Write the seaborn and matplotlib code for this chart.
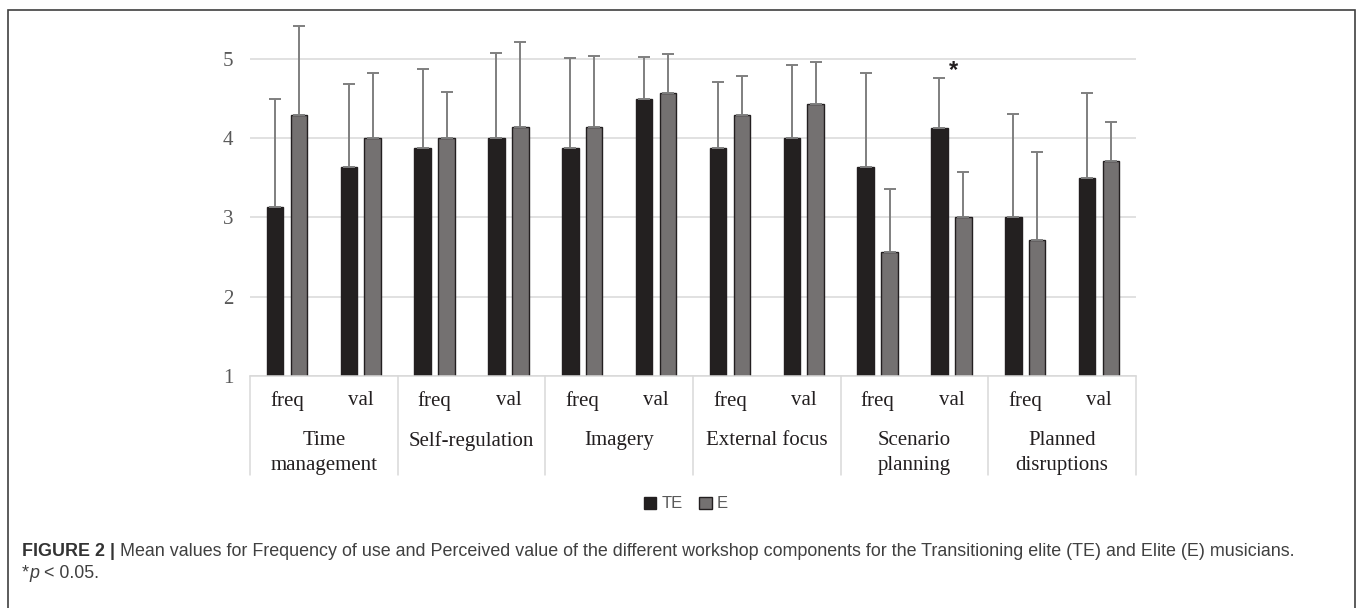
import pandas as pd
import seaborn as sns
import matplotlib.pyplot as plt
from matplotlib.patches import Rectangle
from matplotlib.transforms import blended_transform_factory

# datos
components = ['Time\nmanagement', 'Self-regulation', 'Imagery', 'External focus',
              'Scenario\nplanning', 'Planned\ndisruptions']
measures = ['freq', 'val']
groups = ['TE', 'E']

te_mean = [3.13, 3.64, 3.88, 4.00, 3.88, 4.50, 3.88, 4.00, 3.64, 4.13, 3.00, 3.50]
e_mean = [4.29, 4.00, 4.00, 4.14, 4.14, 4.57, 4.29, 4.43, 2.57, 3.00, 2.71, 3.71]
te_sd = [1.36, 1.05, 0.99, 1.07, 1.13, 0.53, 0.83, 0.93, 1.18, 0.63, 1.31, 1.07]
e_sd = [1.12, 0.82, 0.58, 1.07, 0.90, 0.49, 0.49, 0.53, 0.79, 0.58, 1.11, 0.49]
sig_items = [9]  # Scenario planning val, p < 0.05

items = [c + '|' + m for c in components for m in measures]
df = pd.DataFrame({
    'item': items * 2,
    'group': ['TE'] * len(items) + ['E'] * len(items),
    'mean': te_mean + e_mean,
})

sns.set_theme(style='white')
plt.rcParams['font.family'] = ['Liberation Serif', 'DejaVu Serif']

fig = plt.figure(figsize=(13.58, 6.08), dpi=100)
ax = fig.add_axes([250 / 1358, 1 - 376 / 608, 886 / 1358, (376 - 23.3) / 608])

sns.barplot(data=df, x='item', y='mean', hue='group', order=items, hue_order=groups,
            palette=['#231f20', '#757070'], width=0.648, gap=0.31,
            edgecolor='#231f20', linewidth=1, errorbar=None, legend=True, ax=ax)

# barras de error solo hacia arriba
for cont, sd in zip(ax.containers, [te_sd, e_sd]):
    xs = [b.get_x() + b.get_width() / 2 for b in cont]
    ys = [b.get_height() for b in cont]
    ax.errorbar(xs, ys, yerr=[[0] * len(sd), sd], fmt='none', ecolor='#7f7f7f',
                elinewidth=1.4, capsize=4.5, capthick=1.4, zorder=1)

for i in sig_items:
    ax.text(i + 0.03, te_mean[i] + te_sd[i] + 0.1, '*', ha='center', va='center',
            fontsize=17, color='#231f20', weight='bold',
            family=['Liberation Sans', 'DejaVu Sans'])

ax.set_ylim(1, 5.45)
ax.set_xlim(-0.5, len(items) - 0.5)
ax.set_yticks([1, 2, 3, 4, 5])
ax.yaxis.grid(True, color='#d9d9d9', linewidth=1.1)
ax.set_axisbelow(True)
for s in ['top', 'right', 'left']:
    ax.spines[s].set_visible(False)
ax.spines['bottom'].set_color('#d9d9d9')
ax.spines['bottom'].set_linewidth(1.1)
ax.set_xlabel('')
ax.set_ylabel('')
ax.set_xticks(range(len(items)))
ax.set_xticklabels([it.split('|')[1] for it in items])
ax.tick_params(axis='x', length=0, pad=11, labelsize=15, labelcolor='#231f20')
ax.tick_params(axis='y', length=0, pad=12, labelsize=15, labelcolor='#595959')

# etiquetas de grupo y separadores
tr = blended_transform_factory(ax.transData, ax.transAxes)
h_px = 376 - 23.3
for k in range(len(components) + 1):
    ax.plot([2 * k - 0.5, 2 * k - 0.5], [0, -99 / h_px], transform=tr,
            color='#d9d9d9', linewidth=1.1, clip_on=False)
for k, c in enumerate(components):
    ax.text(2 * k + 0.5, -(431 - 376) / h_px, c, transform=tr, ha='center', va='top',
            fontsize=15, color='#231f20', linespacing=1.42)

handles, labels = ax.get_legend_handles_labels()
ax.legend(handles, labels, loc='center', bbox_to_anchor=(686 / 1358, 1 - 504 / 608),
          bbox_transform=fig.transFigure, ncol=2, frameon=False, handlelength=0.75,
          handleheight=0.75, handletextpad=0.3, columnspacing=1.0,
          prop={'family': ['Liberation Sans Narrow', 'Liberation Sans'], 'size': 12},
          labelcolor='#595959')

# marco exterior
fig.patches.append(Rectangle((8 / 1358, -0.05), 1347 / 1358, 1.05 - 10 / 608,
                             transform=fig.transFigure, fill=False,
                             edgecolor='#404040', linewidth=1.2))

# pie de figura
renderer = fig.canvas.get_renderer()


def texto_seguido(x, y, piezas):
    for txt, kw in piezas:
        t = fig.text(x, y, txt, ha='left', va='center', fontsize=12.9,
                     family=['Liberation Sans', 'DejaVu Sans'], **kw)
        bb = t.get_window_extent(renderer)
        x = x + bb.width / fig.bbox.width


texto_seguido(22 / 1358, 1 - 552 / 608, [
    ('FIGURE 2 | ', {'weight': 'bold', 'color': '#333333'}),
    ('Mean values for Frequency of use and Perceived value of the different workshop '
     'components for the Transitioning elite (TE) and Elite (E) musicians.', {'color': '#404040'}),
])
texto_seguido(22 / 1358, 1 - 573 / 608, [
    ('*', {'color': '#404040'}),
    ('p', {'color': '#404040', 'style': 'italic'}),
    (' < 0.05.', {'color': '#404040'}),
])

plt.savefig('out.png', dpi=100)
